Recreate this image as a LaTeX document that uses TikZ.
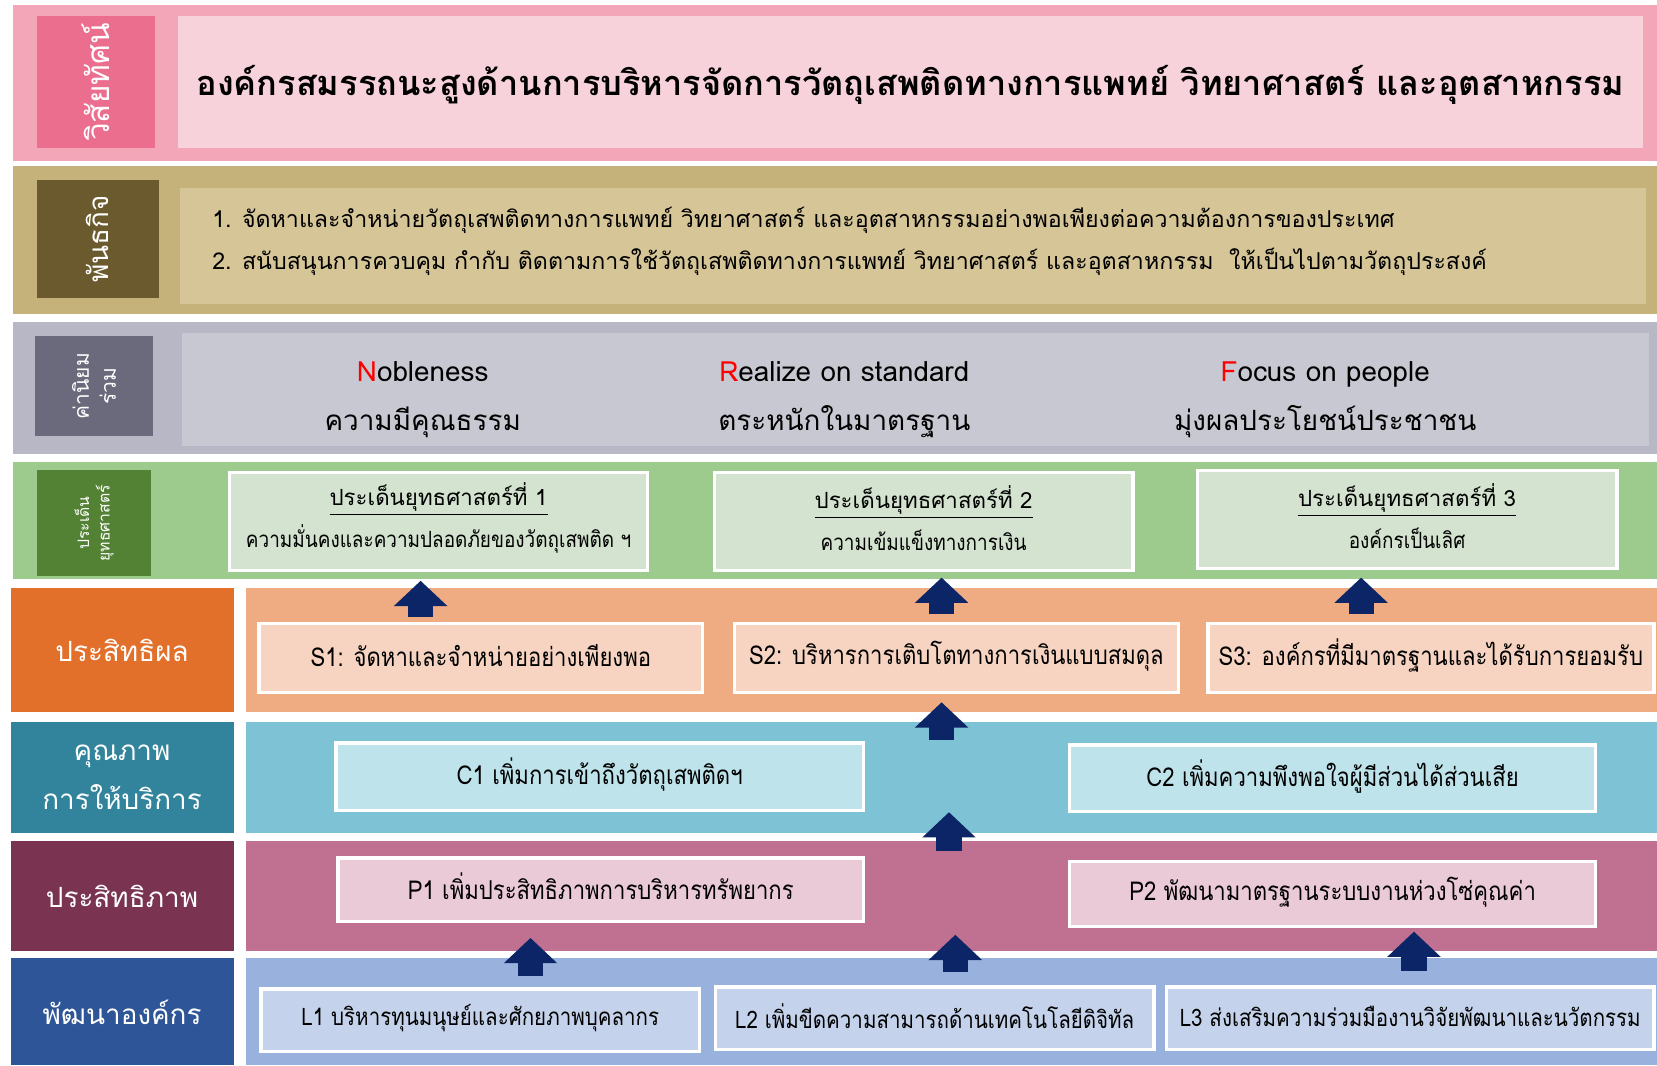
\documentclass[tikz,border=0pt]{standalone}
\usepackage{fontspec}
\setmainfont[Script=Thai]{Loma}
\newfontfamily\condfont[Script=Thai,FakeStretch=0.85]{Loma}
\usetikzlibrary{positioning,fit,arrows.meta}
\definecolor{pinkOut}{HTML}{F3A6B8}
\definecolor{pinkDark}{HTML}{EB6E8F}
\definecolor{pinkLight}{HTML}{F7D2DB}
\definecolor{goldOut}{HTML}{C5B27A}
\definecolor{goldDark}{HTML}{6B5A2E}
\definecolor{goldLight}{HTML}{D5C597}
\definecolor{grayOut}{HTML}{B7B7C5}
\definecolor{grayDark}{HTML}{6A6A7C}
\definecolor{grayLight}{HTML}{C8C8D2}
\definecolor{greenBand}{HTML}{9DCB8E}
\definecolor{greenDark}{HTML}{548235}
\definecolor{greenBox}{HTML}{D3E3CF}
\definecolor{orangeDark}{HTML}{E2702A}
\definecolor{orangeBand}{HTML}{EFAB82}
\definecolor{orangeBox}{HTML}{F6D4C1}
\definecolor{tealDark}{HTML}{31849B}
\definecolor{tealBand}{HTML}{7EC3D5}
\definecolor{tealBox}{HTML}{BEE3EB}
\definecolor{maroonDark}{HTML}{7A3452}
\definecolor{maroonBand}{HTML}{C07090}
\definecolor{maroonBox}{HTML}{EBCAD7}
\definecolor{blueDark}{HTML}{2E5597}
\definecolor{blueBand}{HTML}{99B2DD}
\definecolor{blueBox}{HTML}{C4D3EB}
\definecolor{navy}{HTML}{0B2567}

\tikzset{
  band/.style={inner sep=0pt, draw=none},
  sidetab/.style={inner sep=0pt, text=white, align=center, rotate=90},
  rowtxt/.style={text=white, align=center, font=\fontsize{15}{26.5}\selectfont},
  wbox/.style={inner sep=0pt, draw=white, line width=1.8pt},
  boxtxt/.style={font=\condfont\fontsize{14}{17}\selectfont},
  sitxt/.style={align=center, font=\fontsize{12}{22.7}\selectfont},
  uparr/.style={draw=navy, line width=13.6pt, -{Triangle[width=28pt,length=13.6pt]}}
}

\begin{document}
\begin{tikzpicture}[x=0.02cm, y=-0.02cm]
  \useasboundingbox (0,0) rectangle (1568,1008);
  \fill[white] (0,0) rectangle (1568,1008);

  \node[band, fill=pinkOut, fit={(12,5) (1568,152)}] (visRow) {};
  \node[sidetab, fill=pinkDark, minimum width=2.5cm, minimum height=2.24cm, font=\fontsize{17}{20}\selectfont] (vis) at (91,77.5) {วิสัยทัศน์};
  \node[band, fill=pinkLight, fit={(168,15) (1555,140)}] (visBox) {};
  \node[font=\fontsize{18.5}{22}\selectfont\bfseries] (visText) at ([yshift=-0.06cm]visBox.center) {องค์กรสมรรถนะสูงด้านการบริหารจัดการวัตถุเสพติดทางการแพทย์ วิทยาศาสตร์ และอุตสาหกรรม};

  \node[band, fill=goldOut, fit={(12,157) (1568,297)}] (misRow) {};
  \node[sidetab, fill=goldDark, minimum width=2.24cm, minimum height=2.3cm, font=\fontsize{15}{18}\selectfont] (mis) at (92.5,226) {พันธกิจ};
  \node[band, fill=goldLight, fit={(170,178) (1558,288)}] (misBox) {};
  \node[anchor=west, align=left, font=\fontsize{12.5}{22.7}\selectfont] (misText) at ([xshift=0.5cm,yshift=0.1cm]misBox.west) {1. จัดหาและจำหน่ายวัตถุเสพติดทางการแพทย์ วิทยาศาสตร์ และอุตสาหกรรมอย่างพอเพียงต่อความต้องการของประเทศ\\2. สนับสนุนการควบคุม กำกับ ติดตามการใช้วัตถุเสพติดทางการแพทย์ วิทยาศาสตร์ และอุตสาหกรรม\ \ ให้เป็นไปตามวัตถุประสงค์};

  \node[band, fill=grayOut, fit={(12,305) (1568,430)}] (valRow) {};
  \node[sidetab, fill=grayDark, minimum width=1.9cm, minimum height=2.24cm, font=\fontsize{11.3}{14.5}\selectfont] (val) at (89,365.5) {ค่านิยม\\ร่วม};
  \node[band, fill=grayLight, fit={(172,315) (1560,422)}] (valBox) {};
  \node[align=center, font=\fontsize{15}{26.6}\selectfont] (v1) at (400,378) {\textcolor{red}{N}obleness\\ความมีคุณธรรม};
  \node[align=center, font=\fontsize{15}{26.6}\selectfont] (v2) at (799,378) {\textcolor{red}{R}ealize on standard\\ตระหนักในมาตรฐาน};
  \node[align=center, font=\fontsize{15}{26.6}\selectfont] (v3) at (1254,378) {\textcolor{red}{F}ocus on people\\มุ่งผลประโยชน์ประชาชน};

  \node[band, fill=greenBand, fit={(12,437) (1568,548)}] (siRow) {};
  \node[sidetab, fill=greenDark, minimum width=2cm, minimum height=2.16cm, font=\fontsize{8.5}{11}\selectfont] (si) at (89,495) {ประเด็น\\ยุทธศาสตร์};
  \node[wbox, fill=greenBox, fit={(217,447) (613,540)}] (si1) {};
  \node[wbox, fill=greenBox, fit={(676,447) (1072,540)}] (si2) {};
  \node[wbox, fill=greenBox, fit={(1133,445) (1530,538)}] (si3) {};
  \node[sitxt] (si1t) at ([yshift=0.06cm]si1.center) {\underline{ประเด็นยุทธศาสตร์ที่ 1}\\{\condfont ความมั่นคงและความปลอดภัยของวัตถุเสพติด ฯ}};
  \node[sitxt] (si2t) at ([yshift=0.06cm]si2.center) {\underline{ประเด็นยุทธศาสตร์ที่ 2}\\{\condfont ความเข้มแข็งทางการเงิน}};
  \node[sitxt] (si3t) at ([yshift=0.06cm]si3.center) {\underline{ประเด็นยุทธศาสตร์ที่ 3}\\{\condfont องค์กรเป็นเลิศ}};

  \node[band, fill=orangeDark, fit={(10,556) (221,674)}] (rowS) {};
  \node[rowtxt] at (rowS) {ประสิทธิผล};
  \node[band, fill=orangeBand, fit={(233,556) (1568,674)}] (sRow) {};
  \node[wbox, fill=orangeBox, fit={(245,590) (665,655)}] (s1) {};
  \node[wbox, fill=orangeBox, fit={(695,590) (1115,655)}] (s2) {};
  \node[wbox, fill=orangeBox, fit={(1143,590) (1565,655)}] (s3) {};
  \node[boxtxt] (s1t) at ([yshift=0.04cm]s1.center) {S1: จัดหาและจำหน่ายอย่างเพียงพอ};
  \node[boxtxt] (s2t) at ([yshift=0.04cm]s2.center) {S2: บริหารการเติบโตทางการเงินแบบสมดุล};
  \node[boxtxt] (s3t) at ([yshift=0.04cm]s3.center) {S3: องค์กรที่มีมาตรฐานและได้รับการยอมรับ};

  \node[band, fill=tealDark, fit={(10,683) (221,788)}] (rowC) {};
  \node[rowtxt] at (rowC) {คุณภาพ\\การให้บริการ};
  \node[band, fill=tealBand, fit={(233,683) (1568,788)}] (cRow) {};
  \node[wbox, fill=tealBox, fit={(318,703) (817,767)}] (c1) {};
  \node[wbox, fill=tealBox, fit={(1012,705) (1510,768)}] (c2) {};
  \node[boxtxt] (c1t) at ([yshift=0.04cm]c1.center) {C1 เพิ่มการเข้าถึงวัตถุเสพติดฯ};
  \node[boxtxt] (c2t) at ([yshift=0.04cm]c2.center) {C2 เพิ่มความพึงพอใจผู้มีส่วนได้ส่วนเสีย};

  \node[band, fill=maroonDark, fit={(10,796) (221,900)}] (rowP) {};
  \node[rowtxt] at (rowP) {ประสิทธิภาพ};
  \node[band, fill=maroonBand, fit={(233,796) (1568,900)}] (pRow) {};
  \node[wbox, fill=maroonBox, fit={(320,812) (817,872)}] (p1) {};
  \node[wbox, fill=maroonBox, fit={(1012,815) (1510,877)}] (p2) {};
  \node[boxtxt] (p1t) at ([yshift=0.06cm]p1.center) {P1 เพิ่มประสิทธิภาพการบริหารทรัพยากร};
  \node[boxtxt] (p2t) at ([yshift=0.04cm]p2.center) {P2 พัฒนามาตรฐานระบบงานห่วงโซ่คุณค่า};

  \node[band, fill=blueDark, fit={(10,907) (221,1008)}] (rowL) {};
  \node[rowtxt] at (rowL) {พัฒนาองค์กร};
  \node[band, fill=blueBand, fit={(233,907) (1568,1008)}] (lRow) {};
  \node[wbox, fill=blueBox, fit={(247,936) (662,995)}] (l1) {};
  \node[wbox, fill=blueBox, fit={(677,934) (1092,993)}] (l2) {};
  \node[wbox, fill=blueBox, fit={(1104,934) (1565,993)}] (l3) {};
  \node[boxtxt, font=\condfont\fontsize{13}{16}\selectfont] (l1t) at ([yshift=0.04cm]l1.center) {L1 บริหารทุนมนุษย์และศักยภาพบุคลากร};
  \node[boxtxt, font=\condfont\fontsize{13}{16}\selectfont] (l2t) at ([yshift=0.04cm]l2.center) {L2 เพิ่มขีดความสามารถด้านเทคโนโลยีดิจิทัล};
  \node[boxtxt, font=\condfont\fontsize{13}{16}\selectfont] (l3t) at ([yshift=0.04cm]l3.center) {L3 ส่งเสริมความร่วมมืองานวิจัยพัฒนาและนวัตกรรม};

  \coordinate (a1) at ([xshift=-1.14cm]s1.north);
  \coordinate (a2) at ([xshift=-0.28cm]s2.north);
  \coordinate (a3) at ([xshift=-1.32cm]s3.north);
  \coordinate (cS) at (891,700);
  \coordinate (pC) at (898,805);
  \coordinate (a6) at ([xshift=0.95cm]l1.north);
  \coordinate (a7) at ([xshift=0.39cm]l2.north);
  \coordinate (a8) at ([xshift=0.07cm]l3.north);
  \draw[uparr, shorten <=0.1cm, shorten >=0.16cm] (a1) -- (a1 |- si1.south);
  \draw[uparr, shorten <=0.14cm, shorten >=0.1cm] (a2) -- (a2 |- si2.south);
  \draw[uparr, shorten <=0.14cm, shorten >=0.14cm] (a3) -- (a3 |- si3.south);
  \draw[uparr, shorten >=0.16cm] (cS) -- (cS |- s2.south);
  \draw[uparr] (pC) -- (pC |- c1.south);
  \draw[uparr, shorten <=0.22cm, shorten >=0.28cm] (a6) -- (a6 |- p1.south);
  \draw[uparr, shorten <=0.26cm, shorten >=0.22cm] (a7) -- (a7 |- p1.south);
  \draw[uparr, shorten <=0.28cm, shorten >=0.06cm] (a8) -- (a8 |- p2.south);
\end{tikzpicture}
\end{document}
